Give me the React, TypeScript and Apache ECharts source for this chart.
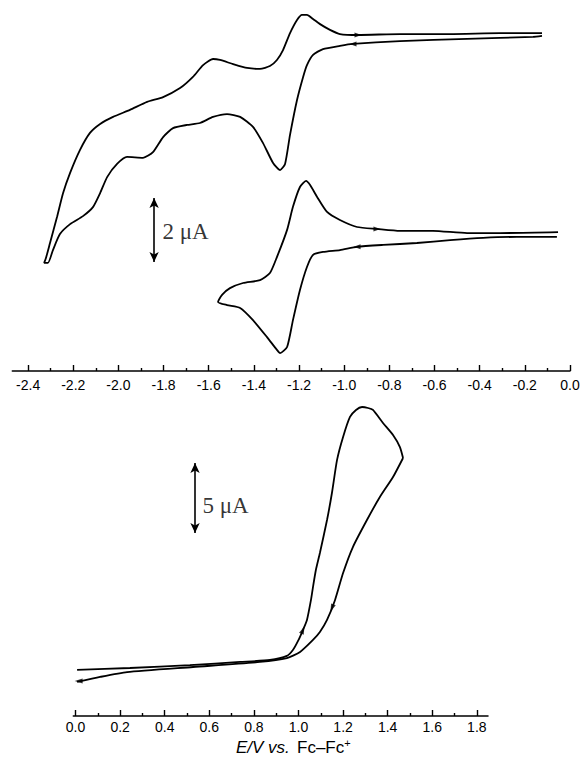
import React, { useEffect, useRef } from "react";
import * as echarts from "echarts";

// ---------- tick values (V) ----------
const topMajorTicks = [-2.4, -2.2, -2.0, -1.8, -1.6, -1.4, -1.2, -1.0, -0.8, -0.6, -0.4, -0.2, 0.0];
const topMinorTicks = [-2.3, -2.1, -1.9, -1.7, -1.5, -1.3, -1.1, -0.9, -0.7, -0.5, -0.3, -0.1];
const bottomMajorTicks = [0.0, 0.2, 0.4, 0.6, 0.8, 1.0, 1.2, 1.4, 1.6, 1.8];
const bottomMinorTicks = [0.1, 0.3, 0.5, 0.7, 0.9, 1.1, 1.3, 1.5, 1.7];

// ---------- top panel: wide scan (E / V, current / µA) ----------
const wideScanE = [-0.124, -0.310, -0.531, -0.753, -0.939, -1.019, -1.063, -1.107, -1.138, -1.165,
  -1.187, -1.209, -1.240, -1.271, -1.298, -1.329, -1.373, -1.430, -1.492, -1.550,
  -1.581, -1.625, -1.670, -1.727, -1.802, -1.873, -1.949, -2.024, -2.081, -2.126,
  -2.170, -2.214, -2.245, -2.272, -2.303, -2.321, -2.329, -2.312, -2.290, -2.259,
  -2.214, -2.157, -2.112, -2.081, -2.050, -2.006, -1.962, -1.891, -1.847, -1.802,
  -1.758, -1.696, -1.639, -1.581, -1.519, -1.461, -1.404, -1.360, -1.315, -1.284,
  -1.262, -1.240, -1.209, -1.182, -1.165, -1.138, -1.094, -1.019, -0.961, -0.753,
  -0.456, -0.164, -0.124];
const wideScanI = [10.56, 10.56, 10.53, 10.53, 10.50, 10.53, 10.66, 10.84, 11.00, 11.13,
  11.13, 10.97, 10.56, 10.03, 9.72, 9.53, 9.44, 9.47, 9.59, 9.72,
  9.75, 9.56, 9.19, 8.84, 8.56, 8.41, 8.16, 7.94, 7.72, 7.44,
  6.91, 6.19, 5.56, 4.81, 4.00, 3.53, 3.38, 3.38, 3.78, 4.28,
  4.59, 4.84, 5.13, 5.56, 6.06, 6.47, 6.69, 6.66, 6.84, 7.31,
  7.59, 7.69, 7.75, 7.94, 8.03, 7.94, 7.63, 7.13, 6.50, 6.28,
  6.47, 7.38, 8.47, 9.19, 9.56, 9.88, 10.06, 10.16, 10.22, 10.31,
  10.38, 10.44, 10.47];

// ---------- top panel: narrow scan ----------
const narrowScanE = [-0.053, -0.310, -0.456, -0.607, -0.753, -0.855, -0.943, -1.019, -1.076, -1.120,
  -1.151, -1.169, -1.196, -1.227, -1.253, -1.298, -1.329, -1.373, -1.448, -1.506,
  -1.541, -1.559, -1.519, -1.461, -1.404, -1.342, -1.298, -1.284, -1.253, -1.227,
  -1.196, -1.165, -1.138, -1.094, -1.019, -0.943, -0.828, -0.678, -0.531, -0.385,
  -0.235, -0.058];
const narrowScanI = [4.34, 4.31, 4.31, 4.38, 4.38, 4.44, 4.50, 4.72, 4.97, 5.44,
  5.81, 5.94, 5.75, 5.13, 4.41, 3.56, 3.06, 2.84, 2.75, 2.59,
  2.38, 2.16, 2.06, 1.97, 1.59, 1.06, 0.66, 0.56, 0.75, 1.59,
  2.53, 3.25, 3.63, 3.72, 3.78, 3.88, 3.94, 4.00, 4.09, 4.16,
  4.19, 4.19];

// ---------- bottom panel: oxidation scan ----------
const oxForwardE = [0.007, 0.244, 0.513, 0.738, 0.872, 0.948, 0.975, 0.998, 1.020, 1.038,
  1.056, 1.065, 1.078, 1.096, 1.128, 1.150, 1.173, 1.200, 1.231, 1.258,
  1.285, 1.312, 1.334, 1.379, 1.424, 1.455, 1.469];
const oxForwardI = [3.29, 3.43, 3.64, 3.86, 4.00, 4.29, 4.71, 5.36, 6.14, 6.86,
  8.29, 9.21, 10.43, 11.64, 14.00, 15.93, 18.29, 19.93, 21.36, 21.86,
  22.07, 22.00, 21.86, 20.93, 20.07, 19.21, 18.43];
const oxReverseE = [1.469, 1.424, 1.365, 1.307, 1.244, 1.200, 1.164, 1.128, 1.096, 1.065,
  1.007, 0.948, 0.827, 0.527, 0.231, 0.110, 0.007];
const oxReverseI = [18.43, 17.07, 15.64, 14.00, 12.07, 10.21, 8.29, 6.86, 6.00, 5.43,
  4.57, 4.14, 3.86, 3.50, 3.14, 2.79, 2.43];

// ---------- direction arrows: [E, I, rotation deg] ----------
const topArrows = [
  [-0.939, 10.50, -90],
  [-0.961, 10.22, 90],
  [-0.855, 4.44, -90],
  [-0.943, 3.88, 90],
];
const bottomArrows = [
  [1.020, 6.14, -23],
  [1.150, 7.71, 158],
  [0.014, 2.50, 90],
];

// ---------- scale bars ----------
const topScaleBarE = -1.842;
const topScaleBarI = [3.41, 5.41];
const topScaleLabel = { e: -1.807, i: 4.375, text: "2 μA" };
const bottomScaleBarE = 0.536;
const bottomScaleBarI = [13.07, 18.07];
const bottomScaleLabel = { e: 0.567, i: 15.07, text: "5 μA" };

const BLACK = "#000";
const SANS = "Liberation Sans, Arial, sans-serif";
const zip = (a: number[], b: number[]) => a.map((v, k) => [v, b[k]]);

function xAxesFor(gridIndex: number, min: number, max: number, major: number[], minor: number[], margin: number) {
  return [
    {
      type: "value", gridIndex, position: "bottom", min, max,
      axisLine: { show: true, onZero: false, lineStyle: { color: BLACK, width: 1.5 } },
      axisTick: { show: true, inside: true, length: 6, customValues: major, lineStyle: { color: BLACK, width: 1.4 } },
      axisLabel: {
        show: true, customValues: major, margin,
        formatter: (v: number) => v.toFixed(1),
        fontFamily: SANS, fontSize: 14, color: BLACK,
      },
      splitLine: { show: false },
    },
    {
      type: "value", gridIndex, position: "bottom", min, max,
      axisLine: { show: false },
      axisTick: { show: true, inside: true, length: 3, customValues: minor, lineStyle: { color: BLACK, width: 1.4 } },
      axisLabel: { show: false },
      splitLine: { show: false },
    },
  ];
}

const curve = (name: string, xi: number, yi: number, data: number[][]) => ({
  name, type: "line", xAxisIndex: xi, yAxisIndex: yi, data,
  showSymbol: false, symbol: "none", smooth: 0.2,
  lineStyle: { color: BLACK, width: 1.8 }, silent: true,
});

const arrows = (xi: number, yi: number, pts: number[][], size: number[]) => ({
  type: "scatter", xAxisIndex: xi, yAxisIndex: yi, symbol: "triangle", symbolSize: size,
  itemStyle: { color: BLACK }, silent: true, z: 5,
  data: pts.map((p) => ({ value: [p[0], p[1]], symbolRotate: p[2] })),
});

const scaleBar = (xi: number, yi: number, e: number, iv: number[]) => ({
  type: "line", xAxisIndex: xi, yAxisIndex: yi, data: [], silent: true,
  markLine: {
    silent: true, animation: false, symbol: ["arrow", "arrow"], symbolSize: [7, 10],
    label: { show: false },
    lineStyle: { color: BLACK, width: 1.6, type: "solid" },
    data: [[{ coord: [e, iv[0]] }, { coord: [e, iv[1]] }]],
  },
});

const scaleText = (xi: number, yi: number, lab: { e: number; i: number; text: string }) => ({
  type: "scatter", xAxisIndex: xi, yAxisIndex: yi, symbolSize: 1, silent: true,
  itemStyle: { color: "rgba(0,0,0,0)" },
  label: {
    show: true, position: "right", distance: 0, formatter: lab.text,
    fontFamily: "Liberation Serif, Times New Roman, serif", fontSize: 23, color: BLACK,
  },
  data: [[lab.e, lab.i]],
});

export default function App() {
  const ref = useRef<HTMLDivElement>(null);
  useEffect(() => {
    if (!ref.current) return;
    const chart = echarts.init(ref.current, null, { renderer: "svg" });
    const option: any = {
      animation: false,
      backgroundColor: "#fff",
      grid: [
        { left: 12.3, right: 10, top: 3, bottom: 389, outerBoundsMode: "none", containLabel: false },
        { left: 73.3, right: 92, top: 380, bottom: 44, outerBoundsMode: "none", containLabel: false },
      ],
      xAxis: [
        ...xAxesFor(0, -2.47, 0, topMajorTicks, topMinorTicks, 7),
        ...xAxesFor(1, -0.01, 1.85, bottomMajorTicks, bottomMinorTicks, 4),
      ],
      yAxis: [
        { type: "value", gridIndex: 0, min: 0, max: 11.5, show: false },
        { type: "value", gridIndex: 1, min: 0, max: 24, show: false },
      ],
      graphic: [
        {
          type: "text", left: 236, top: 737, silent: true,
          style: {
            text: "{i|E/V}{i2|vs.}{r|Fc–Fc}{s|+}",
            fill: BLACK,
            rich: {
              i: { fontFamily: SANS, fontStyle: "italic", fontSize: 17, width: 32, lineHeight: 19, verticalAlign: "bottom" },
              i2: { fontFamily: SANS, fontStyle: "italic", fontSize: 17, width: 29, lineHeight: 19, verticalAlign: "bottom" },
              r: { fontFamily: SANS, fontSize: 17, lineHeight: 19, verticalAlign: "bottom" },
              s: { fontFamily: SANS, fontSize: 11, lineHeight: 11, verticalAlign: "top" },
            },
          },
        },
      ],
      series: [
        curve("wide scan", 0, 0, zip(wideScanE, wideScanI)),
        curve("narrow scan", 0, 0, zip(narrowScanE, narrowScanI)),
        arrows(0, 0, topArrows, [5, 7]),
        scaleBar(0, 0, topScaleBarE, topScaleBarI),
        scaleText(0, 0, topScaleLabel),
        curve("oxidation forward", 2, 1, zip(oxForwardE, oxForwardI)),
        curve("oxidation reverse", 2, 1, zip(oxReverseE, oxReverseI)),
        arrows(2, 1, bottomArrows, [5, 8]),
        scaleBar(2, 1, bottomScaleBarE, bottomScaleBarI),
        scaleText(2, 1, bottomScaleLabel),
      ],
    };
    chart.setOption(option);
    return () => chart.dispose();
  }, []);
  return (
    <div
      ref={ref}
      style={{ position: "absolute", left: 0, top: 0, width: 580, height: 760, background: "#fff" }}
    />
  );
}
